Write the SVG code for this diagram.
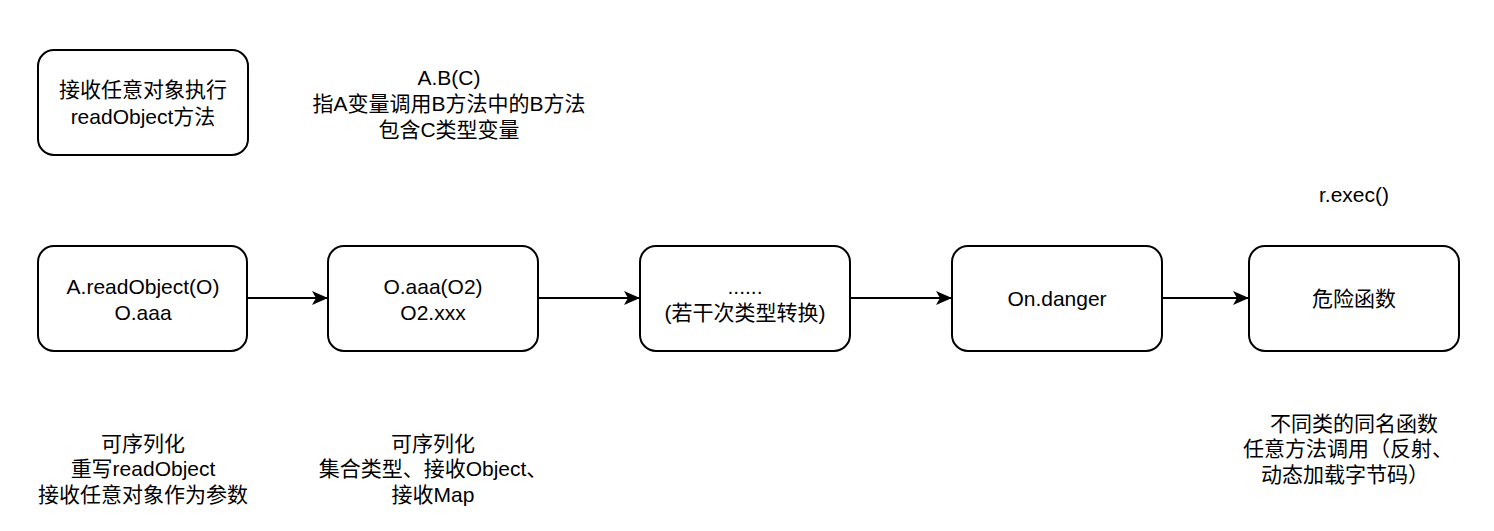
<svg xmlns="http://www.w3.org/2000/svg" width="1494" height="531" viewBox="0 0 1494 531">
<defs>
<style>
.box{fill:#fff;stroke:#000;stroke-width:2}
.t{font-family:"Liberation Sans","Noto Sans CJK SC",sans-serif;font-size:21px;fill:#000;text-anchor:middle;dominant-baseline:central}
.c{fill:none;stroke:#000;stroke-width:2}
</style>
<marker id="arr" markerWidth="16" markerHeight="14" viewBox="0 0 16 14" refX="15" refY="7" orient="auto" markerUnits="userSpaceOnUse">
<path d="M0,0 L16,7 L0,14 L4,7 Z" fill="#000"/>
</marker>
</defs>
<rect width="1494" height="531" fill="#fff"/>
<g id="connectors">
<line class="c" x1="248" y1="298" x2="327" y2="298" marker-end="url(#arr)"/>
<line class="c" x1="539" y1="298" x2="639" y2="298" marker-end="url(#arr)"/>
<line class="c" x1="851" y1="298" x2="951" y2="298" marker-end="url(#arr)"/>
<line class="c" x1="1163" y1="298" x2="1248" y2="298" marker-end="url(#arr)"/>
</g>
<g id="note1">
<rect class="box" x="38" y="50" width="210" height="105" rx="16"/>
<text class="t" x="143" y="89">接收任意对象执行</text>
<text class="t" x="143" y="116">readObject方法</text>
</g>
<g id="label-abc">
<text class="t" x="449" y="77">A.B(C)</text>
<text class="t" x="449" y="103">指A变量调用B方法中的B方法</text>
<text class="t" x="449" y="129">包含C类型变量</text>
</g>
<g id="n1">
<rect class="box" x="38" y="246" width="209" height="105" rx="16"/>
<text class="t" x="143" y="286">A.readObject(O)</text>
<text class="t" x="143" y="312">O.aaa</text>
</g>
<g id="n2">
<rect class="box" x="328" y="246" width="210" height="105" rx="16"/>
<text class="t" x="433" y="286">O.aaa(O2)</text>
<text class="t" x="433" y="312">O2.xxx</text>
</g>
<g id="n3">
<rect class="box" x="640" y="246" width="210" height="105" rx="16"/>
<text class="t" x="745" y="286">......</text>
<text class="t" x="745" y="312">(若干次类型转换)</text>
</g>
<g id="n4">
<rect class="box" x="952" y="246" width="210" height="105" rx="16"/>
<text class="t" x="1057" y="298">On.danger</text>
</g>
<g id="n5">
<rect class="box" x="1249" y="246" width="210" height="105" rx="16"/>
<text class="t" x="1354" y="298">危险函数</text>
</g>
<g id="label-exec">
<text class="t" x="1354" y="194">r.exec()</text>
</g>
<g id="label-n1">
<text class="t" x="143" y="443">可序列化</text>
<text class="t" x="143" y="468">重写readObject</text>
<text class="t" x="143" y="494">接收任意对象作为参数</text>
</g>
<g id="label-n2">
<text class="t" x="433" y="443">可序列化</text>
<text class="t" x="433" y="468">集合类型、接收Object、</text>
<text class="t" x="433" y="494">接收Map</text>
</g>
<g id="label-n5">
<text class="t" x="1354" y="423">不同类的同名函数</text>
<text class="t" x="1348" y="448">任意方法调用（反射、</text>
<text class="t" x="1345" y="474">动态加载字节码）</text>
</g>
</svg>
